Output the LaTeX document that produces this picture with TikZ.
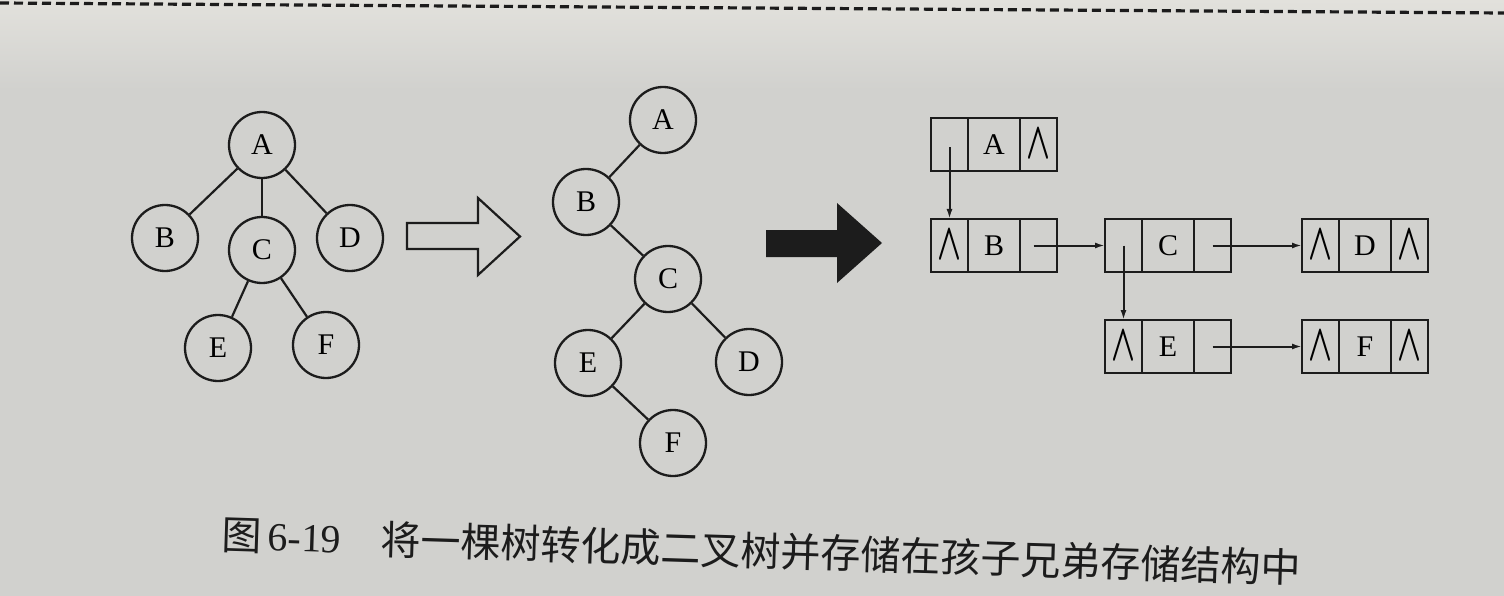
\documentclass[tikz,border=0pt]{standalone}
\usepackage{fontspec}
\setmainfont{Liberation Serif}
\newfontfamily\cjkfont{Noto Sans CJK SC}
\usetikzlibrary{arrows.meta}
\definecolor{ink}{HTML}{1C1C1C}
\definecolor{paper}{HTML}{D1D1CE}
\definecolor{paperlight}{HTML}{E2E1DC}
\newcommand\nilsym{\raisebox{1pt}{\resizebox{24pt}{29pt}{\boldmath$\wedge$}}}
\newcommand\listrec[6]{%
  \node[sidecell, anchor=north west] (#1l) at (#2,#3) {#4};
  \node[midcell, anchor=west] (#1m) at (#1l.east) {#5};
  \node[sidecell, anchor=west] (#1r) at (#1m.east) {#6};
}
\begin{document}
\begin{tikzpicture}[x=1pt,y=-1pt,
  treenode/.style={circle, draw=ink, line width=2.3pt, minimum size=66pt, inner sep=0pt,
    font=\fontsize{30}{30}\selectfont},
  edge/.style={draw=ink, line width=2.2pt},
  cell/.style={rectangle, draw=ink, line width=2.6pt, minimum height=53pt, inner sep=0pt,
    outer sep=0pt, font=\fontsize{30}{30}\selectfont},
  sidecell/.style={cell, minimum width=37pt, text width=37pt, align=center},
  midcell/.style={cell, minimum width=52pt},
  link/.style={draw=ink, line width=2pt, -{Latex[length=10pt,width=6pt]}},
]
\useasboundingbox (0,0) rectangle (1504,596);
% paper
\fill[paper] (0,0) rectangle (1504,596);
\shade[top color=paperlight, bottom color=paper] (0,0) rectangle (1504,90);
\draw[ink, line width=3.2pt, dash pattern=on 9pt off 5pt] (0,3) -- (1504,13);

% original tree
\node[treenode] (tA) at (262,145) {A};
\node[treenode] (tB) at (165,238) {B};
\node[treenode] (tC) at (262,250) {C};
\node[treenode] (tD) at (350,238) {D};
\node[treenode] (tE) at (218,348) {E};
\node[treenode] (tF) at (326,345) {F};
\draw[edge] (tA) -- (tB);
\draw[edge] (tA) -- (tC);
\draw[edge] (tA) -- (tD);
\draw[edge] (tC) -- (tE);
\draw[edge] (tC) -- (tF);

% hollow arrow
\draw[ink, line width=2.2pt, line join=miter]
  (407,223) -- (478,223) -- (478,198) -- (520,236.5) -- (478,275) -- (478,249) -- (407,249) -- cycle;

% binary tree
\node[treenode] (bA) at (663,120) {A};
\node[treenode] (bB) at (586,202) {B};
\node[treenode] (bC) at (668,279) {C};
\node[treenode] (bE) at (588,363) {E};
\node[treenode] (bD) at (749,362) {D};
\node[treenode] (bF) at (673,443) {F};
\draw[edge] (bA) -- (bB);
\draw[edge] (bB) -- (bC);
\draw[edge] (bC) -- (bE);
\draw[edge] (bC) -- (bD);
\draw[edge] (bE) -- (bF);

% filled arrow
\fill[ink] (766,230) -- (837,230) -- (837,203) -- (882,243) -- (837,283) -- (837,257) -- (766,257) -- cycle;

% child-sibling storage
\listrec{LA}{931}{118}{}{A}{\nilsym}
\listrec{LB}{931}{219}{\nilsym}{B}{}
\listrec{LC}{1105}{219}{}{C}{}
\listrec{LD}{1302}{219}{\nilsym}{D}{\nilsym}
\listrec{LE}{1105}{320}{\nilsym}{E}{}
\listrec{LF}{1302}{320}{\nilsym}{F}{\nilsym}
\draw[link] ([yshift=-3pt]LAl.center) -- (LBl.north);
\draw[link] ([xshift=-5pt]LBr.center) -- (LCl.west);
\draw[link] (LCl.center) -- (LEl.north);
\draw[link] (LCr.center) -- (LDl.west);
\draw[link] (LEr.center) -- (LFl.west);

% caption
\node[anchor=west, rotate=-1.8, inner sep=0pt, text=ink, font=\fontsize{40}{40}\selectfont] (cap) at (222,534)
  {{\cjkfont 图}\hspace{6pt}6-19\hspace{40pt}{\cjkfont 将一棵树转化成二叉树并存储在孩子兄弟存储结构中}};
\end{tikzpicture}
\end{document}
